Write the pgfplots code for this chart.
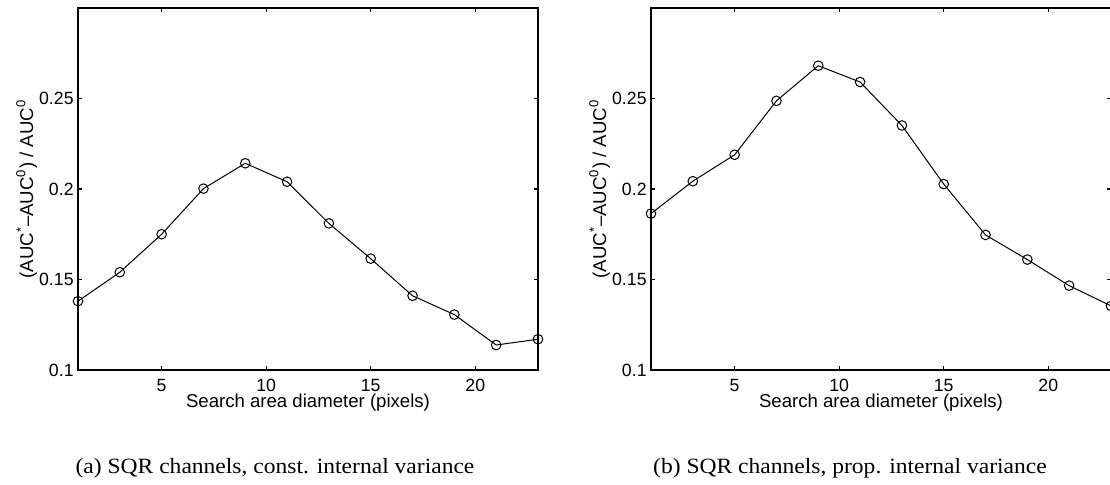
\documentclass[border=0pt]{standalone}
\usepackage{pgfplots}
\pgfplotsset{compat=1.18}
\usepackage{fontspec}
\setmainfont{Liberation Sans}
\newfontfamily\capfont[FakeStretch=1.08]{Liberation Serif}

\pgfplotsset{mystyle/.style={
  scale only axis, width=230pt, height=181pt,
  xmin=1, xmax=23, ymin=0.1, ymax=0.3,
  xtick={5,10,15,20}, ytick={0.1,0.15,0.2,0.25},
  tick align=inside, major tick length=2pt,
  axis line style={line width=1pt},
  tick style={line width=0.6pt, black},
  every tick label/.append style={font=\fontsize{8.85}{10}\selectfont},
  /pgf/number format/assume math mode=true,
  yticklabel style={/pgf/number format/fixed, /pgf/number format/precision=2, inner sep=2pt},
  xticklabel style={anchor=base, yshift=-10.8pt, inner sep=0pt},
  xlabel={Search area diameter (pixels)},
  ylabel={(AUC\textsuperscript{*}\textendash AUC\textsuperscript{0}) / AUC\textsuperscript{0}},
  every axis x label/.style={at={(axis description cs:0.5,-0.104)}, anchor=base, inner sep=0pt, font=\fontsize{9.3}{11}\selectfont},
  every axis y label/.style={at={(axis description cs:-0.0978,0.5)}, rotate=90, anchor=base, font=\fontsize{9.3}{11}\selectfont},
}}

\begin{document}
\begin{tikzpicture}
\begin{axis}[mystyle, at={(39pt,57.5pt)}, anchor=south west]
\addplot[black, line width=0.5pt, mark=o, mark size=2.4pt, mark options={line width=0.5pt}] coordinates {
(1,0.138)(3,0.154)(5,0.175)(7,0.2002)(9,0.2142)(11,0.204)(13,0.181)(15,0.1615)(17,0.141)(19,0.1306)(21,0.1138)(23,0.117)};
\end{axis}
\begin{axis}[mystyle, at={(325.5pt,57.5pt)}, anchor=south west]
\addplot[black, line width=0.5pt, mark=o, mark size=2.4pt, mark options={line width=0.5pt}] coordinates {
(1,0.1864)(3,0.2043)(5,0.2189)(7,0.2487)(9,0.2681)(11,0.2591)(13,0.2351)(15,0.2027)(17,0.1746)(19,0.161)(21,0.1466)(23,0.1354)};
\end{axis}
\node[anchor=base, font=\capfont\fontsize{10.9}{12}\selectfont] at (137.5pt,5.8pt) {(a) SQR channels, const. internal variance};
\node[anchor=base, font=\capfont\fontsize{10.9}{12}\selectfont] at (425pt,5.8pt) {(b) SQR channels, prop. internal variance};
\pgfresetboundingbox
\useasboundingbox (0,0) rectangle (555pt,242.5pt);
\end{tikzpicture}
\end{document}
